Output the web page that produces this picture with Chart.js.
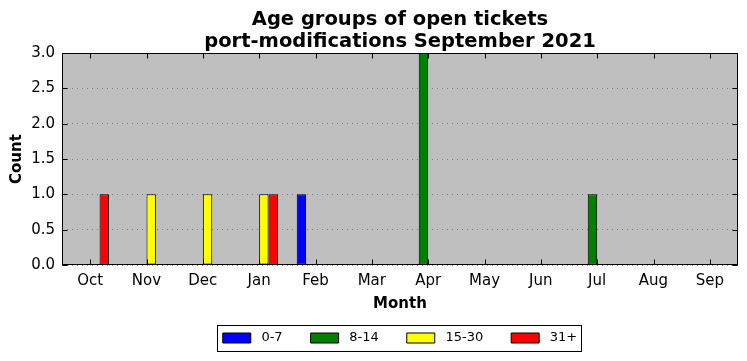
<!DOCTYPE html>
<html>
<head>
<meta charset="utf-8">
<script src="https://cdn.jsdelivr.net/npm/chart.js@4.4.0/dist/chart.umd.min.js"></script>
<style>
  html, body { margin: 0; padding: 0; background: #fff; }
  #wrap { width: 747px; height: 361px; }
</style>
</head>
<body>
<div id="wrap"><canvas id="grafica" width="747" height="361"></canvas></div>
<script>
// Datos
const meses = ['Oct', 'Nov', 'Dec', 'Jan', 'Feb', 'Mar', 'Apr', 'May', 'Jun', 'Jul', 'Aug', 'Sep'];
const grupo0a7   = [0, 0, 0, 0, 1, 0, 0, 0, 0, 0, 0, 0];
const grupo8a14  = [0, 0, 0, 0, 0, 0, 3, 0, 0, 1, 0, 0];
const grupo15a30 = [0, 1, 1, 1, 0, 0, 0, 0, 0, 0, 0, 0];
const grupo31    = [1, 0, 0, 1, 0, 0, 0, 0, 0, 0, 0, 0];
const titulo = ['Age groups of open tickets', 'port-modifications September 2021'];

Chart.defaults.font.family = "'DejaVu Sans', sans-serif";
Chart.defaults.color = '#000';

// Fondo gris, marco, marcas hacia dentro y caja de la leyenda
const marcoPlugin = {
    id: 'marco',
    beforeDraw(chart) {
        const { ctx, chartArea: a } = chart;
        ctx.save();
        ctx.fillStyle = '#bfbfbf';
        ctx.fillRect(a.left, a.top, a.right - a.left, a.bottom - a.top);
        ctx.restore();
    },
    afterDatasetsDraw(chart) {
        const { ctx, chartArea: a, scales } = chart;
        const l = Math.round(a.left) + 0.5, r = Math.round(a.right) - 0.5;
        const t = Math.round(a.top) + 0.5, b = Math.round(a.bottom) - 0.5;
        ctx.save();
        ctx.strokeStyle = '#000';
        ctx.lineWidth = 1;
        ctx.beginPath();
        scales.y.ticks.forEach(tk => {
            const y = Math.round(scales.y.getPixelForValue(tk.value)) + 0.5;
            ctx.moveTo(l, y); ctx.lineTo(l + 5, y);
            ctx.moveTo(r, y); ctx.lineTo(r - 5, y);
        });
        meses.forEach((m, i) => {
            const x = Math.round(scales.x.getPixelForTick(i)) + 0.5;
            ctx.moveTo(x, b); ctx.lineTo(x, b - 5);
            ctx.moveTo(x, t); ctx.lineTo(x, t + 5);
        });
        ctx.stroke();
        ctx.strokeRect(l, t, r - l, b - t);
        ctx.restore();
    },
    afterDraw(chart) {
        const cajas = chart.legend.legendHitBoxes;
        if (!cajas || !cajas.length) return;
        const ctx = chart.ctx;
        const ultima = cajas[cajas.length - 1];
        const x0 = Math.round(cajas[0].left - 6) + 0.5;
        const x1 = Math.round(ultima.left + ultima.width + 4) + 0.5;
        const cy = cajas[0].top + cajas[0].height / 2;
        const y0 = Math.round(cy - 13) + 0.5, y1 = Math.round(cy + 13) + 0.5;
        ctx.save();
        ctx.strokeStyle = '#000';
        ctx.lineWidth = 1;
        ctx.strokeRect(x0, y0, x1 - x0, y1 - y0);
        ctx.restore();
    }
};

function serie(label, data, color) {
    return {
        label, data,
        backgroundColor: color,
        borderColor: '#000',
        borderWidth: 1,
        borderSkipped: false,
        categoryPercentage: 0.667,
        barPercentage: 1.0
    };
}

new Chart(document.getElementById('grafica'), {
    type: 'bar',
    data: {
        labels: meses,
        datasets: [
            serie('0-7', grupo0a7, '#0000ff'),
            serie('8-14', grupo8a14, '#008000'),
            serie('15-30', grupo15a30, '#ffff00'),
            serie('31+', grupo31, '#ff0000')
        ]
    },
    options: {
        responsive: false,
        animation: false,
        devicePixelRatio: 1,
        events: [],
        layout: { padding: { left: 0, right: 9, top: 0, bottom: 6.5 } },
        plugins: {
            title: {
                display: true,
                text: titulo,
                fullSize: false,
                color: '#000',
                font: { size: 19.5, weight: 'bold', lineHeight: 1.13 },
                padding: { top: 9, bottom: 0 }
            },
            legend: {
                position: 'bottom',
                fullSize: false,
                labels: {
                    font: { size: 13 },
                    boxWidth: 28,
                    boxHeight: 10,
                    padding: 28,
                    color: '#000',
                    generateLabels(chart) {
                        const items = Chart.defaults.plugins.legend.labels.generateLabels(chart);
                        items.forEach(it => { it.text = ' ' + it.text; });
                        return items;
                    }
                }
            },
            tooltip: { enabled: false }
        },
        scales: {
            x: {
                grid: { display: false, drawTicks: false },
                border: { display: false },
                ticks: { font: { size: 15 }, padding: 7, color: '#000' },
                title: {
                    display: true, text: 'Month', color: '#000',
                    font: { size: 15, weight: 'bold' },
                    padding: { top: -2, bottom: -9.5 }
                }
            },
            y: {
                min: 0,
                max: 3,
                afterFit(s) { s.width = 62; },
                grid: { color: '#808080', lineWidth: 1, drawTicks: false },
                border: { display: false, dash: [1, 4] },
                ticks: {
                    stepSize: 0.5,
                    font: { size: 15 },
                    padding: 7,
                    color: '#000',
                    callback: v => v.toFixed(1)
                },
                title: {
                    display: true, text: 'Count', color: '#000',
                    font: { size: 15, weight: 'bold' },
                    padding: { top: 8, bottom: 0 }
                }
            }
        }
    },
    plugins: [marcoPlugin]
});
</script>
</body>
</html>
